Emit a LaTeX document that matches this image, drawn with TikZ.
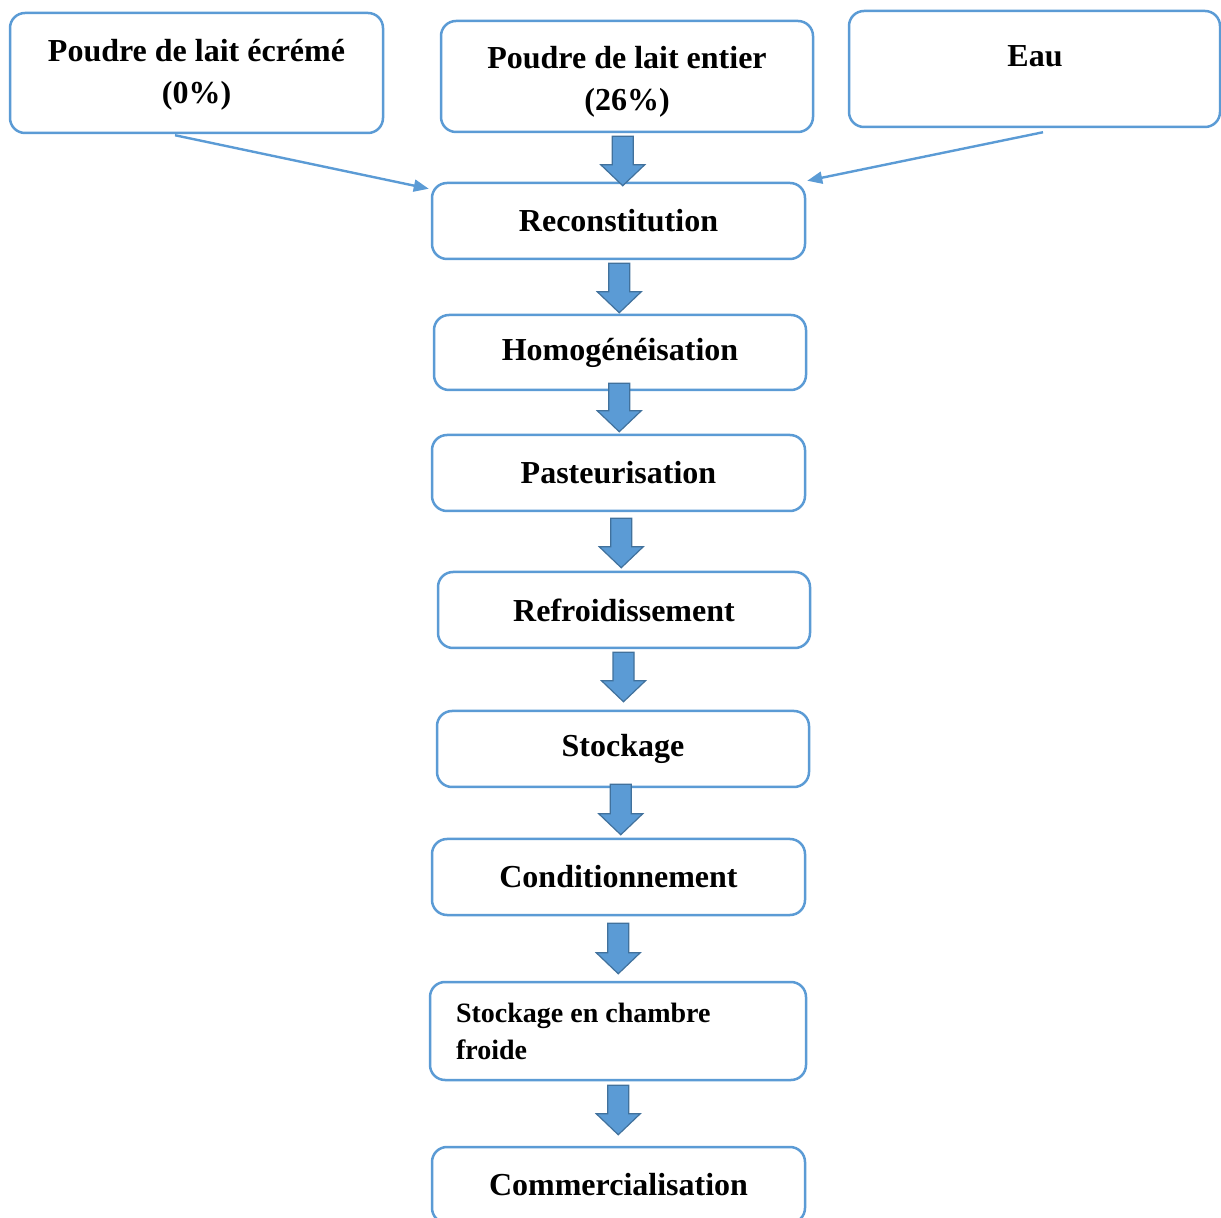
\documentclass[tikz,border=0pt]{standalone}
\usepackage{fontspec}
\setmainfont{Liberation Serif}
\usetikzlibrary{calc,arrows.meta}
\definecolor{boxblue}{RGB}{91,155,213}
\definecolor{arrowedge}{RGB}{65,113,156}
\tikzset{
  box/.style={draw=boxblue, line width=1.25pt, rounded corners=7.5pt, fill=white,
    inner sep=0pt, font=\bfseries\fontsize{16}{21}\selectfont, align=center},
  txt/.style={inner sep=0pt, font=\bfseries\fontsize{16}{21}\selectfont, align=center},
  fatarrow/.style={fill=boxblue, draw=arrowedge, line width=0.6pt, line join=miter},
  thin/.style={draw=boxblue, line width=1.2pt, -{Triangle[length=7.5pt,width=6pt]}}
}
\newcommand{\fatarrow}[4]{%
  \path[fatarrow] let \p1=($(#1.south)+(0,#3)$), \p2=($(#2.north)+(0,#4)$),
    \p3=($(\p1)!0.5!(\p2)$) in
    (\x3-5.25pt,\y1) -- (\x3+5.25pt,\y1) -- (\x3+5.25pt,\y2+10.5pt) --
    (\x3+11pt,\y2+10.5pt) -- (\x3,\y2) -- (\x3-11pt,\y2+10.5pt) --
    (\x3-5.25pt,\y2+10.5pt) -- cycle;}
\begin{document}
\begin{tikzpicture}[x=0.5pt,y=-0.5pt]
\useasboundingbox (0,0) rectangle (1221,1218);
% top row
\node[box, minimum width=186.5pt, minimum height=60pt] (skim) at (196.5,73) {};
\node[txt] (skimtxt) at (196.5,75) {Poudre de lait écrémé\\(0\%)};
\node[box, minimum width=186pt, minimum height=55.5pt] (whole) at (627,76.5) {};
\node[txt] (wholetxt) at (627,81.5) {Poudre de lait entier\\(26\%)};
\node[box, minimum width=185.5pt, minimum height=58pt] (eau) at (1034.5,69) {};
\node[txt] (eautxt) at (1035,56) {Eau};
% process chain
\node[box, minimum width=186.5pt, minimum height=38pt] (recon) at (618.5,221) {Reconstitution};
\node[box, minimum width=186pt, minimum height=37.5pt] (homog) at (620,352.5) {Homogénéisation};
\node[box, minimum width=186.5pt, minimum height=38pt] (past) at (618.5,473) {Pasteurisation};
\node[box, minimum width=186pt, minimum height=38pt] (refr) at (624,610) {Refroidissement};
\node[box, minimum width=186pt, minimum height=38pt] (stock) at (623,749) {Stockage};
\node[box, minimum width=186.5pt, minimum height=38pt] (cond) at (618.5,877) {Conditionnement};
\node[box, minimum width=188pt, minimum height=49pt, text width=162pt, align=flush left,
  font=\bfseries\fontsize{14}{18.5}\selectfont] (cham) at (618,1031)
  {Stockage en chambre\\froide};
\node[box, minimum width=186.5pt, minimum height=38pt] (comm) at (618.5,1185) {Commercialisation};
% side inputs
\draw[thin] ($(skim.south)+(-21.5,1)$) -- ($(recon.north west)+(-2,7)$);
\draw[thin] ($(eau.south)+(8.5,4)$) -- ($(recon.north east)+(1,-1)$);
% block arrows
\fatarrow{whole}{recon}{3}{4}
\fatarrow{recon}{homog}{3}{-1}
\fatarrow{homog}{past}{-8}{-2}
\fatarrow{past}{refr}{6}{-3}
\fatarrow{refr}{stock}{3}{-8}
\fatarrow{stock}{cond}{-4}{-3}
\fatarrow{cond}{cham}{7}{-7}
\fatarrow{cham}{comm}{4}{-11}
\end{tikzpicture}
\end{document}
